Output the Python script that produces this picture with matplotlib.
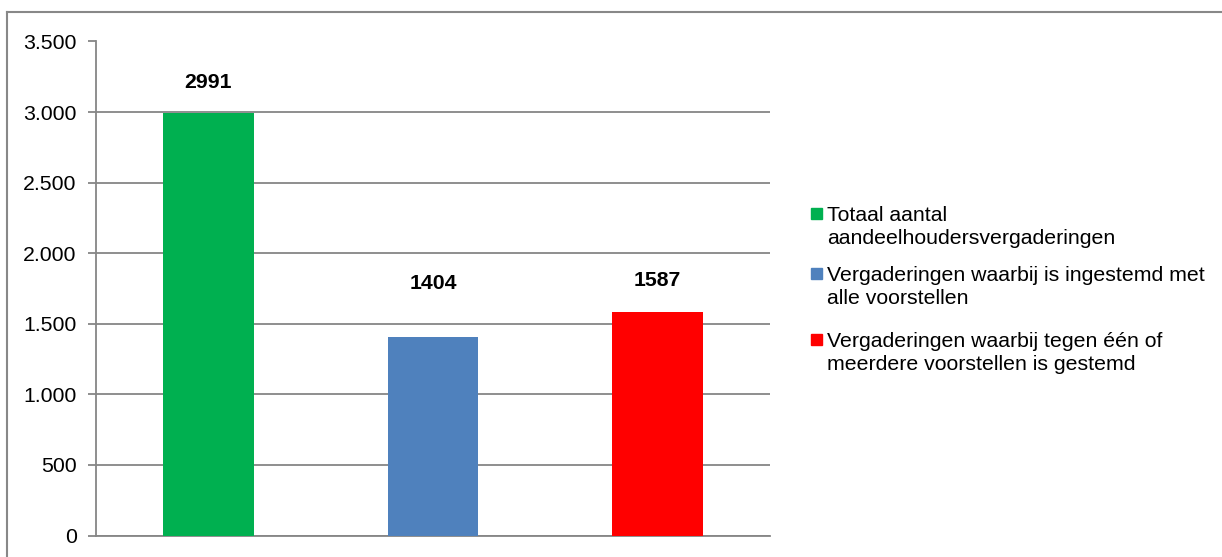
import matplotlib.pyplot as plt
from matplotlib.lines import Line2D
from matplotlib.patches import Rectangle

plt.rcParams['font.family'] = ['Liberation Sans', 'DejaVu Sans']

categories = ['Totaal aantal\naandeelhoudersvergaderingen',
              'Vergaderingen waarbij is ingestemd met\nalle voorstellen',
              'Vergaderingen waarbij tegen één of\nmeerdere voorstellen is gestemd']
values = [2991, 1404, 1587]
colors = ['#00b050', '#4f81bd', '#ff0000']
yticks = [0, 500, 1000, 1500, 2000, 2500, 3000, 3500]
ytick_labels = ['0', '500', '1.000', '1.500', '2.000', '2.500', '3.000', '3.500']

W, H = 1222, 557
fs = 15.3
fig = plt.figure(figsize=(W / 100, H / 100), dpi=100)
ax = fig.add_axes([96 / W, 1 - 535.5 / H, (770 - 96) / W, (535.5 - 41.5) / H])

grid_c = '#868686'
x = range(len(values))
bars = ax.bar(x, values, width=0.405, color=colors, zorder=3)

# label offsets in points (excel pushed the middle one up)
offsets = [31, 54, 31]
for b, v, off in zip(bars, values, offsets):
    ax.annotate(str(v), (b.get_x() + b.get_width() / 2, v), xytext=(0, off * 0.72),
                textcoords='offset points', ha='center', va='center',
                fontsize=fs, fontweight='bold')

ax.set_xlim(-0.5, len(values) - 0.5)
ax.set_ylim(0, 3500)
ax.set_yticks(yticks)
ax.set_yticklabels(ytick_labels, fontsize=fs)
ax.set_xticks([])
ax.yaxis.grid(True, color=grid_c, lw=1.3, zorder=0)
for s in ['top', 'right']:
    ax.spines[s].set_visible(False)
for s in ['left', 'bottom']:
    ax.spines[s].set_color(grid_c)
    ax.spines[s].set_linewidth(1.3)
ax.tick_params(axis='y', length=6, width=1.3, color=grid_c, pad=8)

# outer frame (top and left only visible)
fig.add_artist(Line2D([7 / W, 1.0], [1 - 12 / H, 1 - 12 / H], color='#888888', lw=1.5))
fig.add_artist(Line2D([7 / W, 7 / W], [0, 1 - 12 / H], color='#888888', lw=1.5))

# legend drawn by hand, square aligned with first line
leg_y = [206, 266, 332]
for lab, c, yy in zip(categories, colors, leg_y):
    fig.add_artist(Rectangle((811 / W, 1 - (yy + 13) / H), 11 / W, 11 / H,
                             color=c, transform=fig.transFigure))
    fig.text(827 / W, 1 - yy / H, lab, fontsize=fs, va='top', ha='left',
             linespacing=1.24)

fig.savefig('out.png', dpi=100)
